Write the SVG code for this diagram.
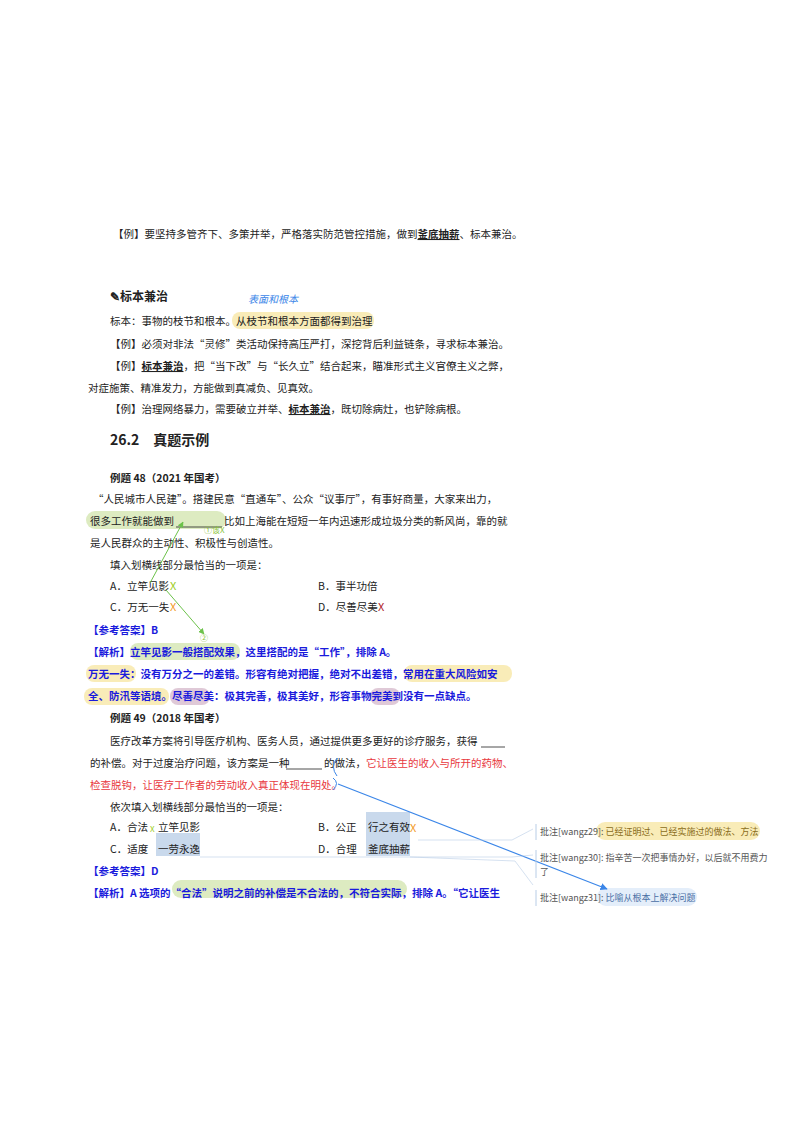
<svg xmlns="http://www.w3.org/2000/svg" width="800" height="1132" viewBox="0 0 800 1132">
<defs>
<style>
text{font-family:"Noto Sans CJK SC","Noto Sans",sans-serif;font-size:10.5px;fill:#222}
.b{font-weight:bold}
.bl{fill:#1a1adc;font-weight:bold}
.r{fill:#e8383d}
.c{font-size:9px;fill:#555}
.hy{fill:#f8e7a6;opacity:.8}
.hg{fill:#d7e8b6;opacity:.85}
.hp{fill:#d9bfd0;opacity:.85}
.hb{fill:#c9d9ec}
.u{stroke:#222;stroke-width:.8}
.m{font-size:11px}
.s{font-size:8px}
</style>
<marker id="ag" viewBox="0 0 10 10" refX="9" refY="5" markerWidth="6" markerHeight="6" orient="auto"><path d="M0,0L10,5L0,10z" fill="#6cc24a"/></marker>
<marker id="ab" viewBox="0 0 10 10" refX="9" refY="5" markerWidth="6" markerHeight="6" orient="auto"><path d="M0,0L10,5L0,10z" fill="#3b86e8"/></marker>
</defs>
<rect width="800" height="1132" fill="#fff"/>
<g id="highlights">
<rect class="hy" x="232" y="312" width="142" height="17" rx="8"/>
<rect class="hg" x="86" y="511" width="140" height="18" rx="9"/>
<rect class="hg" x="130" y="643" width="110" height="17" rx="8"/>
<rect class="hy" x="86" y="665" width="50" height="17" rx="8"/>
<rect class="hy" x="404" y="665" width="108" height="17" rx="8"/>
<rect class="hy" x="84" y="688" width="85" height="17" rx="8"/>
<rect class="hp" x="170" y="688" width="40" height="17" rx="8"/>
<rect class="hp" x="370" y="688" width="30" height="17" rx="8"/>
<rect class="hb" x="156" y="833" width="44" height="23"/>
<rect class="hb" x="366" y="812" width="44" height="44"/>
<rect class="hg" x="172" y="880" width="235" height="18" rx="9"/>
<rect class="hy" x="596" y="822" width="164" height="18" rx="9"/>
<rect fill="#e4eefa" x="597" y="888" width="100" height="18" rx="9"/>
</g>
<g id="body">
<text x="113" y="238">【例】要坚持多管齐下、多策并举，严格落实防范管控措施，做到<tspan class="b" text-decoration="underline">釜底抽薪</tspan>、标本兼治。</text>
<text x="110" y="301" class="b" style="font-size:12px">✎标本兼治</text>
<text x="248" y="303" fill="#3b86e8" style="font-size:10px;font-style:italic;fill:#3b86e8">表面和根本</text>
<text x="110" y="325">标本：事物的枝节和根本。从枝节和根本方面都得到治理</text>
<text x="110" y="348">【例】必须对非法“灵修”类活动保持高压严打，深挖背后利益链条，寻求标本兼治。</text>
<text x="110" y="370">【例】<tspan class="b" text-decoration="underline">标本兼治</tspan>，把“当下改”与“长久立”结合起来，瞄准形式主义官僚主义之弊，</text>
<text x="88" y="392">对症施策、精准发力，方能做到真减负、见真效。</text>
<text x="110" y="413">【例】治理网络暴力，需要破立并举、<tspan class="b" text-decoration="underline">标本兼治</tspan>，既切除病灶，也铲除病根。</text>
<text x="110" y="445" class="b" style="font-size:14px">26.2　真题示例</text>
<text x="110" y="482" class="b">例题 48（2021 年国考）</text>
<text x="93" y="503">“人民城市人民建”。搭建民意“直通车”、公众“议事厅”，有事好商量，大家来出力，</text>
<text x="90" y="525">很多工作就能做到</text>
<line class="u" x1="176" y1="527" x2="222" y2="527"/>
<text x="224" y="525">比如上海能在短短一年内迅速形成垃圾分类的新风尚，靠的就</text>
<text x="90" y="547">是人民群众的主动性、积极性与创造性。</text>
<text x="110" y="569">填入划横线部分最恰当的一项是：</text>
<text x="110" y="590">A．立竿见影</text><text x="318" y="590">B．事半功倍</text>
<text x="110" y="611">C．万无一失</text><text x="318" y="611">D．尽善尽美</text>
<text x="88" y="634" class="bl">【参考答案】B</text>
<text x="88" y="656" class="bl">【解析】立竿见影一般搭配效果，这里搭配的是“工作”，排除 A。</text>
<text x="88" y="678" class="bl">万无一失：没有万分之一的差错。形容有绝对把握，绝对不出差错，常用在重大风险如安</text>
<text x="88" y="700" class="bl">全、防汛等语境。尽善尽美：极其完善，极其美好，形容事物完美到没有一点缺点。</text>
<text x="110" y="722" class="b">例题 49（2018 年国考）</text>
<text x="110" y="745">医疗改革方案将引导医疗机构、医务人员，通过提供更多更好的诊疗服务，获得</text>
<line class="u" x1="481" y1="747" x2="505" y2="747"/>
<text x="90" y="767">的补偿。对于过度治疗问题，该方案是一种</text>
<line class="u" x1="286" y1="769" x2="322" y2="769"/>
<text x="324" y="767">的做法，</text>
<text x="366" y="767" class="r">它让医生的收入与所开的药物、</text>
<text x="90" y="789" class="r">检查脱钩，让医疗工作者的劳动收入真正体现在明处。</text>
<text x="110" y="811">依次填入划横线部分最恰当的一项是：</text>
<text x="110" y="831">A．合法</text><text x="158" y="831">立竿见影</text>
<text x="318" y="831">B．公正</text><text x="368" y="831">行之有效</text>
<text x="110" y="853">C．适度</text><text x="158" y="853">一劳永逸</text>
<text x="318" y="853">D．合理</text><text x="368" y="853">釜底抽薪</text>
<text x="88" y="875" class="bl">【参考答案】D</text>
<text x="88" y="897" class="bl">【解析】A 选项的“合法”说明之前的补偿是不合法的，不符合实际，排除 A。“它让医生</text>
</g>
<g id="marks">
<text x="170" y="590" class="m" style="fill:#9ccc1c">X</text>
<text x="170" y="611" class="m" style="fill:#f29a1f">X</text>
<text x="378" y="611" class="m" style="fill:#b0232a">X</text>
<text x="204" y="533" class="s" style="fill:#8cc43c">①该X</text>
<text x="200" y="641" class="s" style="fill:#8cc43c">②</text>
<text x="150" y="832" class="s" style="fill:#9ccc1c">X</text>
<text x="410" y="832" class="m" style="fill:#f29a1f">X</text>
<path d="M337,758 Q330,767 337,776" fill="none" stroke="#3b86e8" stroke-width="1"/>
<path d="M333,778 Q340,783 333,790" fill="none" stroke="#3b86e8" stroke-width="1"/>
</g>
<g id="connectors" fill="none">
<polyline points="150,583 183,522" stroke="#6cc24a" stroke-width="1" marker-end="url(#ag)"/>
<polyline points="166,590 204,634" stroke="#6cc24a" stroke-width="1" marker-end="url(#ag)"/>
<line x1="338" y1="784" x2="607" y2="889" stroke="#3b86e8" stroke-width="1.2" marker-end="url(#ab)"/>
<polyline points="418,840 512,840 533,829" stroke="#b8cde6" stroke-width=".6"/>
<polyline points="200,857 512,857 533,855" stroke="#b8cde6" stroke-width=".6"/>
<polyline points="410,857 515,861 533,885" stroke="#b8cde6" stroke-width=".6"/>
</g>
<g id="comments">
<line x1="536" y1="824" x2="536" y2="840" stroke="#b8cde6"/>
<text x="540" y="835" class="c">批注[wangz29]: <tspan fill="#8a6d1a">已经证明过、已经实施过的做法、方法</tspan></text>
<line x1="536" y1="850" x2="536" y2="878" stroke="#b8cde6"/>
<text x="540" y="861" class="c">批注[wangz30]:  指辛苦一次把事情办好，以后就不用费力</text>
<text x="540" y="875" class="c">了</text>
<line x1="536" y1="890" x2="536" y2="906" stroke="#b8cde6"/>
<text x="540" y="901" class="c">批注[wangz31]: <tspan fill="#4a6fa5">比喻从根本上解决问题</tspan></text>
</g>
</svg>
